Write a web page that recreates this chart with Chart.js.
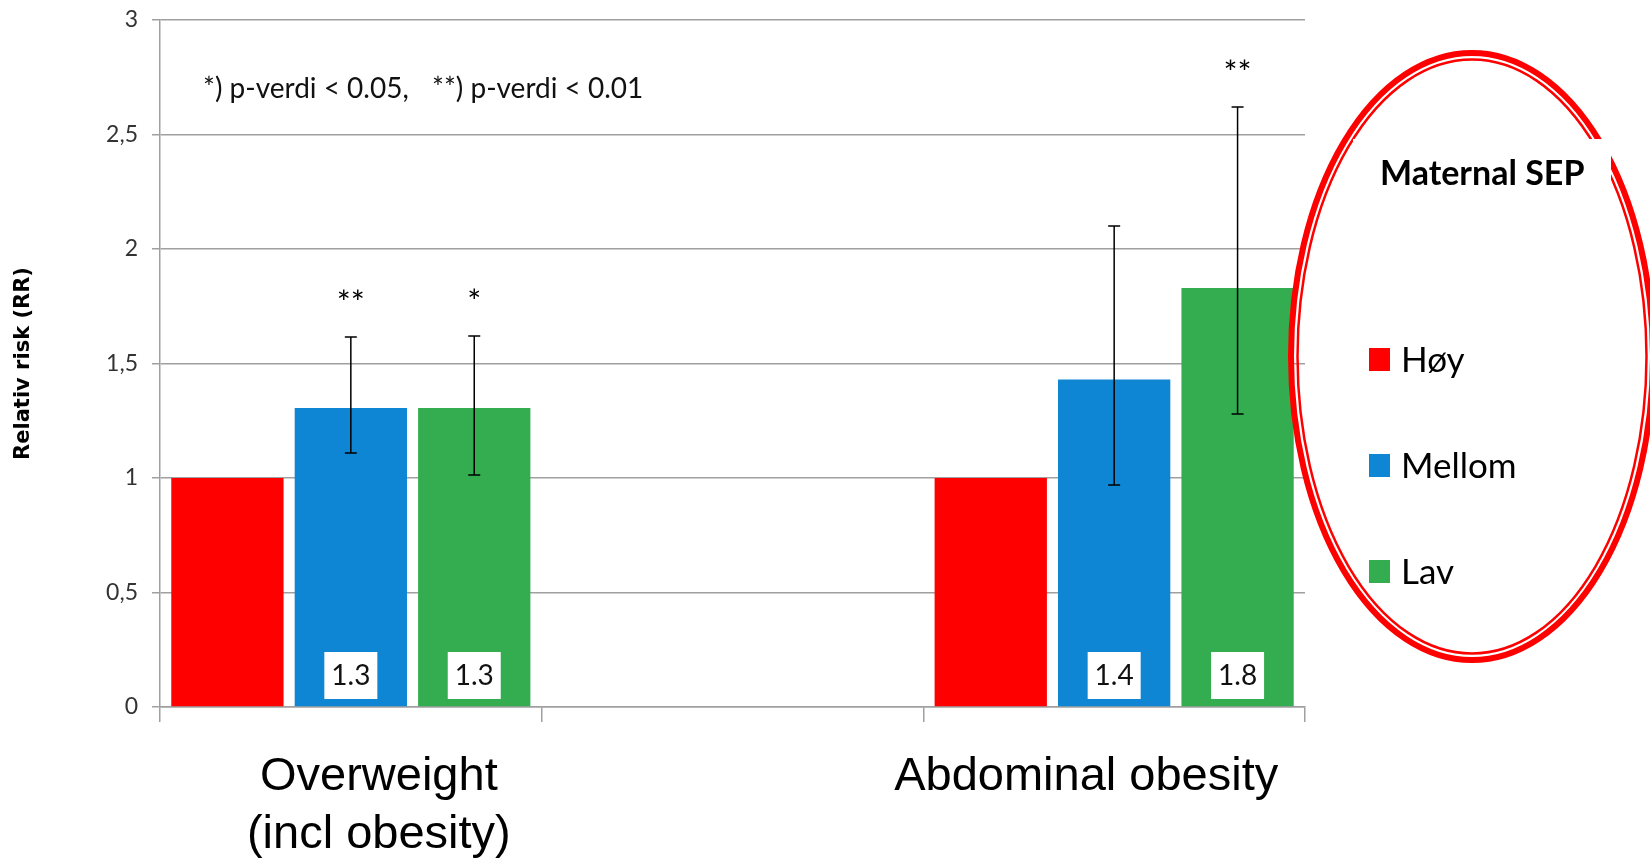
<!DOCTYPE html>
<html>
<head>
<meta charset="utf-8">
<title>Relativ risk (RR)</title>
<script src="https://cdn.jsdelivr.net/npm/chart.js@4.4.1/dist/chart.umd.min.js"></script>
<style>
  html, body { margin: 0; padding: 0; background: #fff; }
  canvas { display: block; }
</style>
</head>
<body>
<canvas id="rrChart" width="1650" height="859"></canvas>
<script>
// x categories (the middle slot is empty in the original slide)
const categories = [['Overweight', '(incl obesity)'], '', 'Abdominal obesity'];
const yTickLabels = ['0', '0,5', '1', '1,5', '2', '2,5', '3'];

// maternal SEP groups
const groupNames = ['Høy', 'Mellom', 'Lav'];
const groupColors = ['#ff0000', '#0f86d4', '#33ad50'];

// relative risk
const hoyRR = [1.0, null, 1.0];
const mellomRR = [1.306, null, 1.43];
const lavRR = [1.306, null, 1.83];

// confidence intervals
const mellomLow = [1.108, null, 0.968];
const mellomHigh = [1.614, null, 2.10];
const lavLow = [1.012, null, 1.279];
const lavHigh = [1.62, null, 2.621];

// significance marks
const mellomSig = ['**', '', ''];
const lavSig = ['*', '', '**'];

const noteParts = ['*) p-verdi < 0.05,', '**) p-verdi < 0.01'];
const legendTitle = 'Maternal SEP';

const calibri = 'Lato, "Open Sans", sans-serif';
const gridGray = '#a0a0a0';

// error bars, value boxes and stars
const barExtras = {
  id: 'barExtras',
  afterDatasetsDraw(chart) {
    const ctx = chart.ctx;
    const y = chart.scales.y;
    ctx.save();
    chart.data.datasets.forEach((ds, di) => {
      const meta = chart.getDatasetMeta(di);
      meta.data.forEach((bar, i) => {
        if (ds.data[i] == null) return;
        if (ds.showValue) {
          ctx.fillStyle = '#fff';
          ctx.fillRect(bar.x - 26.5, y.bottom - 55, 53, 47);
          ctx.fillStyle = '#111';
          ctx.font = '28px ' + calibri;
          ctx.textAlign = 'center';
          ctx.textBaseline = 'middle';
          ctx.fillText(ds.data[i].toFixed(1), bar.x, y.bottom - 31);
        }
        if (ds.errLow) {
          const top = Math.round(y.getPixelForValue(ds.errHigh[i]));
          const bot = Math.round(y.getPixelForValue(ds.errLow[i]));
          ctx.strokeStyle = '#000';
          ctx.lineWidth = 1.5;
          ctx.beginPath();
          ctx.moveTo(bar.x, top); ctx.lineTo(bar.x, bot);
          ctx.moveTo(bar.x - 6, top); ctx.lineTo(bar.x + 6, top);
          ctx.moveTo(bar.x - 6, bot); ctx.lineTo(bar.x + 6, bot);
          ctx.stroke();
          if (ds.sig[i]) {
            ctx.fillStyle = '#000';
            ctx.font = '33px ' + calibri;
            ctx.textAlign = 'center';
            ctx.textBaseline = 'alphabetic';
            ctx.fillText(ds.sig[i], bar.x, top - 23);
          }
        }
      });
    });
    ctx.restore();
  }
};

// category labels, note, legend ellipse
const overlay = {
  id: 'overlay',
  afterDraw(chart) {
    const ctx = chart.ctx;
    const area = chart.chartArea;
    const xs = chart.scales.x;
    ctx.save();

    // category names
    const shift = [28, 0, -28];
    ctx.fillStyle = '#000';
    ctx.font = '47px "Liberation Sans", Arial, sans-serif';
    ctx.textAlign = 'center';
    ctx.textBaseline = 'alphabetic';
    categories.forEach((c, i) => {
      const lines = Array.isArray(c) ? c : [c];
      const cx = xs.getPixelForTick(i) + shift[i];
      lines.forEach((t, k) => ctx.fillText(t, cx, area.bottom + 83 + k * 58));
    });

    // p-value note
    ctx.font = '28px ' + calibri;
    ctx.fillStyle = '#111';
    ctx.textAlign = 'left';
    ctx.fillText(noteParts[0], area.left + 43, area.top + 78);
    ctx.fillText(noteParts[1], area.left + 272, area.top + 78);

    // legend: double red ellipse
    const ex = 1472, ey = 356.5;
    ctx.strokeStyle = '#ff0000';
    ctx.lineWidth = 6;
    ctx.beginPath();
    ctx.ellipse(ex, ey, 181, 303.5, 0, 0, Math.PI * 2);
    ctx.stroke();
    ctx.lineWidth = 2.5;
    ctx.beginPath();
    ctx.ellipse(ex, ey, 174.5, 297, 0, 0, Math.PI * 2);
    ctx.stroke();

    // legend box background
    ctx.fillStyle = '#fff';
    ctx.fillRect(1353, 139, 258, 390);

    ctx.fillStyle = '#000';
    ctx.font = 'bold 34px ' + calibri;
    ctx.textAlign = 'left';
    ctx.fillText(legendTitle, 1380, 185);

    ctx.font = '35px ' + calibri;
    chart.data.datasets.forEach((ds, i) => {
      const top = 348 + i * 106;
      ctx.fillStyle = ds.backgroundColor;
      ctx.fillRect(1369, top, 21, 23);
      ctx.fillStyle = '#000';
      ctx.fillText(ds.label, 1401, top + 24);
    });
    ctx.restore();
  }
};

const ctx = document.getElementById('rrChart').getContext('2d');
new Chart(ctx, {
  type: 'bar',
  data: {
    labels: categories,
    datasets: [
      { label: groupNames[0], data: hoyRR, backgroundColor: groupColors[0] },
      { label: groupNames[1], data: mellomRR, backgroundColor: groupColors[1],
        errLow: mellomLow, errHigh: mellomHigh, sig: mellomSig, showValue: true },
      { label: groupNames[2], data: lavRR, backgroundColor: groupColors[2],
        errLow: lavLow, errHigh: lavHigh, sig: lavSig, showValue: true }
    ]
  },
  options: {
    responsive: false,
    animation: false,
    devicePixelRatio: 1,
    layout: { padding: { left: 0, right: 345, top: 20, bottom: 0 } },
    datasets: { bar: { categoryPercentage: 0.97, barPercentage: 0.91 } },
    plugins: { legend: { display: false }, tooltip: { enabled: false } },
    scales: {
      x: {
        offset: true,
        grid: { offset: true, drawOnChartArea: false, drawTicks: true, tickLength: 15,
                color: gridGray, lineWidth: 1.5 },
        border: { color: gridGray, width: 1.5 },
        ticks: { display: false },
        afterFit(s) { s.height = 152; }
      },
      y: {
        min: 0,
        max: 3,
        grid: { color: gridGray, lineWidth: 1.5, tickLength: 8 },
        border: { color: gridGray, width: 1.5 },
        ticks: {
          stepSize: 0.5,
          padding: 14,
          color: '#333',
          font: { family: calibri, size: 23 },
          callback: (v, i) => yTickLabels[i]
        },
        title: {
          display: true,
          text: 'Relativ risk (RR)',
          color: '#000',
          font: { family: '"DejaVu Sans"', size: 21, weight: 'bold' },
          padding: { top: 11, bottom: 0 }
        },
        afterFit(s) { s.width = 160; s.paddingTop = 0; }
      }
    }
  },
  plugins: [barExtras, overlay]
});
</script>
</body>
</html>
